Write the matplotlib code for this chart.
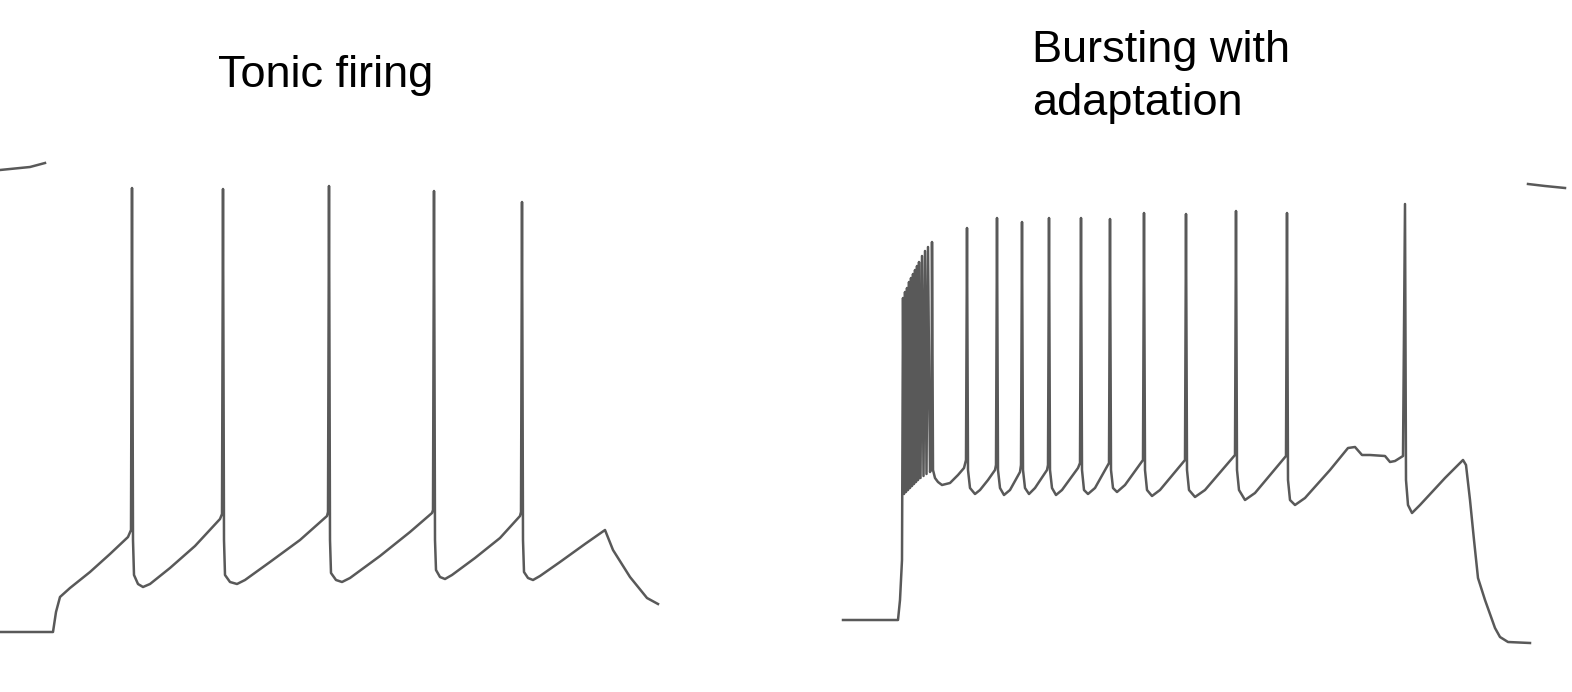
import numpy as np
import matplotlib.pyplot as plt

plt.rcParams['font.family'] = ['Liberation Sans', 'DejaVu Sans']

# Tonic firing trace (time in ms, membrane potential in mV)
tonic_t = [0, 26.5, 28, 30, 35, 45, 55, 64,
           65.5, 66, 66.5, 67, 69, 71.5, 75, 85, 97.5, 110,
           111, 111.5, 112, 112.5, 115, 118.5, 122.5, 135, 150, 163.5,
           164, 164.5, 165, 165.5, 168, 171, 175, 190, 205, 216,
           216.5, 217, 217.5, 218, 220, 222.5, 226, 237.5, 250, 260,
           260.5, 261, 261.5, 262, 264, 266.5, 270, 280, 292.5, 302.5,
           303.5, 306.5, 315, 323.5, 329]
tonic_v = [-70, -70, -65, -61.25, -59, -55, -50.5, -46.25,
           -44.5, 41, -47, -55.75, -58, -58.75, -58, -54, -48.5, -41.75,
           -40.5, 40.75, -47, -55.75, -57.5, -58, -57, -52.5, -47, -41,
           -40, 41.5, -47, -55.25, -57, -57.5, -56.5, -51, -45, -40.25,
           -39.5, 40.25, -47, -54.5, -56.25, -56.75, -55.75, -51.5, -46.5, -41,
           -40, 37.5, -47, -55, -56.5, -57, -56, -52.5, -48, -44.5,
           -45.75, -49.5, -56.25, -61.5, -63]

# tail of the preceding sweep, top-left corner
tonic_prev_t = [0, 15, 22.5]
tonic_prev_v = [45.5, 46.25, 47.25]

# Bursting with adaptation trace
burst_t = [4, 31.5, 32.5, 33.5,
           # initial high-frequency burst
           34, 34.5, 35, 35.5, 36, 36.5, 37, 37.5, 38, 38.5, 39, 39.5,
           40, 40.5, 41, 41.5, 42, 42.75, 43.5, 44.25, 45, 45.75, 46.5, 47.5,
           48.25, 48.5, 49, 50,
           51.5, 53.5, 57.5, 61.5, 64.5, 65.5, 66, 66.5, 67.5, 70,
           72.5, 76.5, 80, 80.5, 81, 81.5, 82.5, 84.5, 87.5, 92.5,
           93, 93.5, 94, 95, 97, 100, 106, 106.5, 107, 107.5,
           108.5, 110.5, 113.5, 121.5, 122.5, 123, 123.5, 124.5, 126.5, 130,
           137, 137.5, 138, 139, 141, 145, 154, 154.5, 155, 156,
           158.5, 162.5, 175, 175.5, 176, 177, 180, 185, 200, 200.5,
           201, 202, 205, 210, 225.5, 226, 226.5, 227.5, 230, 235,
           247.5, 256.5, 260, 263.5, 267.5, 275, 277.5, 280, 284, 285,
           285.5, 286.5, 288.5, 292.5, 305, 314, 315.5, 317.5, 319.5, 321.5,
           325, 330, 332.5, 336.5, 347.5]
burst_v = [-67, -67, -62, -52,
           13.5, -35.5, 15, -35, 16, -34.5, 17.5, -34, 18.5, -33.5, 19.5, -33,
           20.5, -32.5, 21.5, -32, 22.5, -31.5, 24, -31, 25.25, -30.5, 26.25, -30,
           -29, 27.5, -29.5, -31.5,
           -32.5, -33.25, -32.75, -30.75, -29, -27, 31, -29.5, -34, -35.5,
           -34.5, -32, -29.5, -28.25, 33.5, -29.5, -34, -35.75, -34.5, -30,
           -28.25, 32.5, -29.5, -34, -35.5, -34, -29.5, -28.25, 33.5, -29.5,
           -34, -35.75, -34.5, -29, -27.75, 33.5, -29.5, -34.5, -35.5, -34,
           -27.75, 33.25, -29.5, -34, -35, -33.25, -27, 34.75, -29.5, -34.5,
           -36, -34.5, -27, 34.5, -29.5, -34.5, -36.25, -34.5, -25.75, 35.25,
           -29.5, -34.5, -37, -35.25, -26, 34.75, -32, -37, -38.25, -36.5,
           -29.5, -24, -23.75, -25.75, -25.75, -26, -27.5, -27.25, -26, 37,
           -32, -38.25, -40.25, -38.25, -31.5, -27, -28.25, -37, -47, -56.5,
           -62, -69, -71.25, -72.5, -72.75]

burst_prev_t = [346.5, 355, 365]
burst_prev_v = [42, 41.5, 41]

trace_color = '#595959'

fig = plt.figure(figsize=(15.72, 6.92), dpi=100)

ax1 = fig.add_axes([0, 0, 660 / 1572, 1])
ax1.plot(tonic_t, tonic_v, color=trace_color, lw=1.8, solid_joinstyle='round')
ax1.plot(tonic_prev_t, tonic_prev_v, color=trace_color, lw=1.8)
ax1.set_xlim(0, 330)
ax1.set_ylim(-85, 88)
ax1.axis('off')

ax2 = fig.add_axes([835 / 1572, 0, 737 / 1572, 1])
ax2.plot(burst_t, burst_v, color=trace_color, lw=1.8, solid_joinstyle='round')
ax2.plot(burst_prev_t, burst_prev_v, color=trace_color, lw=1.8)
ax2.set_xlim(0, 368.5)
ax2.set_ylim(-85, 88)
ax2.axis('off')

fig.text(326 / 1572, 1 - 76 / 692, 'Tonic firing', ha='center', va='center',
         fontsize=32.5, color='black')
fig.text(1032 / 1572, 1 - 77 / 692, 'Bursting with\nadaptation', ha='left',
         va='center', multialignment='left', linespacing=1.38,
         fontsize=32.5, color='black')

fig.savefig('out.png', dpi=100)
